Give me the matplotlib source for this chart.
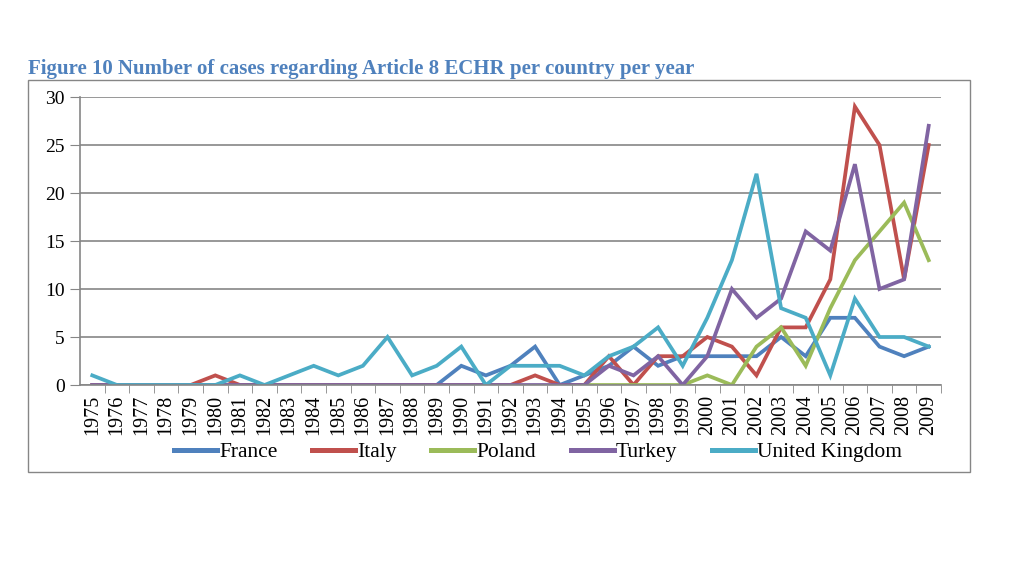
#!/usr/bin/env python3
"""
Figure 10: number of Article 8 ECHR cases per country per year.
"""
import matplotlib
matplotlib.use("Agg")
import matplotlib.pyplot as plt
from matplotlib.patches import Rectangle

plt.rcParams["font.family"] = ["Liberation Serif", "DejaVu Serif"]

YEARS = list(range(1975, 2010))

FRANCE = [0, 0, 0, 0, 0, 0, 0, 0, 0, 0, 0, 0, 0, 0, 0, 2, 1, 2, 4, 0,
          1, 2, 4, 2, 3, 3, 3, 3, 5, 3, 7, 7, 4, 3, 4]
ITALY = [0, 0, 0, 0, 0, 1, 0, 0, 0, 0, 0, 0, 0, 0, 0, 0, 0, 0, 1, 0,
         0, 3, 0, 3, 3, 5, 4, 1, 6, 6, 11, 29, 25, 11, 25]
POLAND = [None] * 20 + [0, 0, 0, 0, 0, 1, 0, 4, 6, 2, 8, 13, 16, 19, 13]
TURKEY = [0, 0, 0, 0, 0, 0, 0, 0, 0, 0, 0, 0, 0, 0, 0, 0, 0, 0, 0, 0,
          0, 2, 1, 3, 0, 3, 10, 7, 9, 16, 14, 23, 10, 11, 27]
UK = [1, 0, 0, 0, 0, 0, 1, 0, 1, 2, 1, 2, 5, 1, 2, 4, 0, 2, 2, 2,
      1, 3, 4, 6, 2, 7, 13, 22, 8, 7, 1, 9, 5, 5, 4]

SERIES = [
    ("France", FRANCE, "#4F81BD"),
    ("Italy", ITALY, "#C0504D"),
    ("Poland", POLAND, "#9BBB59"),
    ("Turkey", TURKEY, "#8064A2"),
    ("United Kingdom", UK, "#4BACC6"),
]

fig = plt.figure(figsize=(10.24, 5.76), dpi=100)
ax = fig.add_axes([80 / 1024, 1 - 385 / 576, 861 / 1024, 288 / 576])

for name, vals, color in SERIES:
    ys = [float("nan") if v is None else v for v in vals]
    ax.plot(YEARS, ys, color=color, linewidth=2.7, label=name,
            solid_joinstyle="miter")

ax.set_xlim(1974.5, 2009.5)
ax.set_ylim(0, 30)
ax.set_yticks(range(0, 31, 5))
ax.set_xticks(YEARS)
ax.set_xticklabels([str(y) for y in YEARS], rotation=90)
ax.set_xticks([y + 0.5 for y in YEARS], minor=True)
ax.tick_params(axis="x", which="major", length=0, pad=7, labelsize=14.5)
ax.tick_params(axis="x", which="minor", length=6, color="#868686", direction="out")
ax.tick_params(axis="y", length=7, color="#868686", labelsize=14, pad=4)
ax.grid(axis="y", color="#868686", linewidth=1.2)
ax.set_axisbelow(True)
for side in ["top", "right"]:
    ax.spines[side].set_visible(False)
for side in ["left", "bottom"]:
    ax.spines[side].set_color("#868686")
    ax.spines[side].set_linewidth(1.2)

leg = fig.legend(loc="center", bbox_to_anchor=(538 / 1024, 1 - 452 / 576), ncol=5,
                 frameon=False, fontsize=15.5, handlelength=2.0, columnspacing=1.6,
                 handletextpad=0.1, borderpad=0)
for line in leg.get_lines():
    line.set_linewidth(3.6)

fig.patches.append(Rectangle((28 / 1024, 1 - 472 / 576), 942 / 1024, 392 / 576,
                             transform=fig.transFigure, fill=False,
                             edgecolor="#868686", linewidth=1))

fig.text(28 / 1024, 1 - 69 / 576,
         "Figure 10 Number of cases regarding Article 8 ECHR per country per year",
         color="#4F81BD", fontsize=15, fontweight="bold", ha="left", va="center")

fig.savefig("out.png", dpi=100)
